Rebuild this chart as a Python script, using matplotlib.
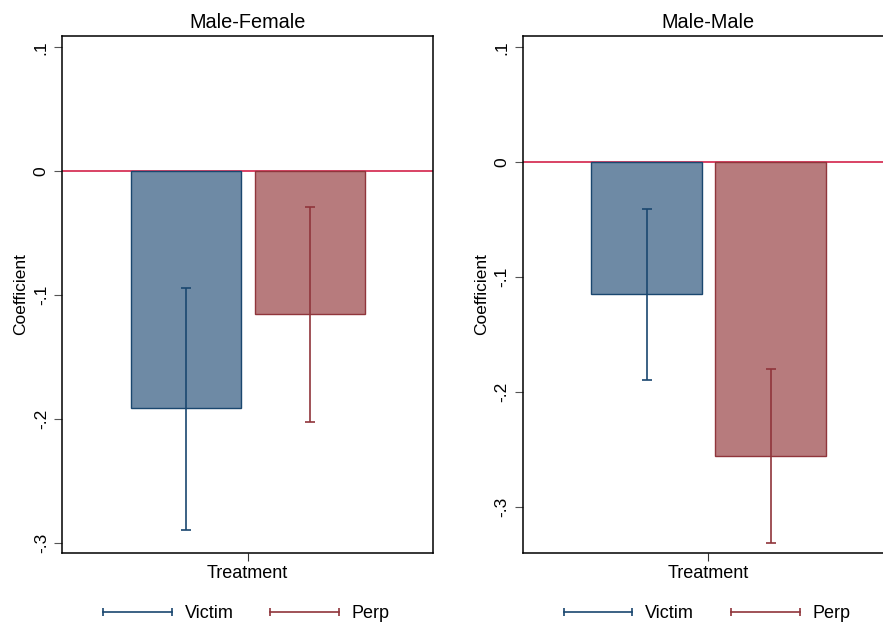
import matplotlib
matplotlib.use("Agg")
import matplotlib.pyplot as plt
from matplotlib.lines import Line2D

plt.rcParams["font.family"] = ["Liberation Sans", "DejaVu Sans"]
plt.rcParams["font.size"] = 12.5

# data
panels = ["Male-Female", "Male-Male"]
groups = ["Victim", "Perp"]
coef = {"Male-Female": [-0.1914, -0.1153], "Male-Male": [-0.1151, -0.2557]}
ci_low = {"Male-Female": [-0.2895, -0.2024], "Male-Male": [-0.190, -0.3318]}
ci_high = {"Male-Female": [-0.0941, -0.029], "Male-Male": [-0.0407, -0.1802]}
ylims = {"Male-Female": (-0.3083, 0.1091), "Male-Male": (-0.3404, 0.1099)}
yticks = [-0.3, -0.2, -0.1, 0, 0.1]
ytick_labels = ["-.3", "-.2", "-.1", "0", ".1"]
xlabel = "Treatment"

fill_colors = ["#6e8aa5", "#b77b7d"]
edge_colors = ["#1a476f", "#90353b"]
zero_color = "#d0103a"

fig = plt.figure(figsize=(8.83, 6.23), dpi=100)
axes_left = [0.0702, 0.592]

for k, panel in enumerate(panels):
    ax = fig.add_axes([axes_left[k], 0.1124, 0.4202, 0.8299])
    positions = [0.334, 0.668]
    for i, g in enumerate(groups):
        ax.bar(positions[i], coef[panel][i], width=0.298, color=fill_colors[i],
               edgecolor=edge_colors[i], linewidth=1.0, zorder=2)
        lo = coef[panel][i] - ci_low[panel][i]
        hi = ci_high[panel][i] - coef[panel][i]
        ax.errorbar(positions[i], coef[panel][i], yerr=[[lo], [hi]], fmt="none",
                    ecolor=edge_colors[i], elinewidth=1.2, capsize=3.3, capthick=1.2,
                    zorder=3)
    ax.axhline(0, color=zero_color, linewidth=1.1, zorder=1)

    ax.set_xlim(0, 1)
    ax.set_ylim(*ylims[panel])
    ax.set_xticks([0.5])
    ax.set_xticklabels([xlabel], fontsize=13)
    ax.set_yticks(yticks)
    ax.set_yticklabels(ytick_labels, rotation=90, va="center")
    ax.tick_params(axis="y", length=6, pad=3.5, color="#555555")
    ax.tick_params(axis="x", length=6, pad=3, color="#333333")
    ax.set_ylabel("Coefficient", labelpad=4)
    ax.set_title(panel, pad=6, fontsize=14.3)
    for s in ax.spines.values():
        s.set_linewidth(1.1)

    handles = [Line2D([], [], color=edge_colors[i], marker="|", markersize=6,
                      markeredgewidth=1.2, linewidth=1.2) for i in range(2)]
    ax.legend(handles, groups, loc="center", bbox_to_anchor=(0.49, -0.118),
              ncol=2, frameon=False, numpoints=2, handlelength=4.4,
              handletextpad=0.42, columnspacing=1.74, fontsize=13)

fig.savefig("out.png", dpi=100)
